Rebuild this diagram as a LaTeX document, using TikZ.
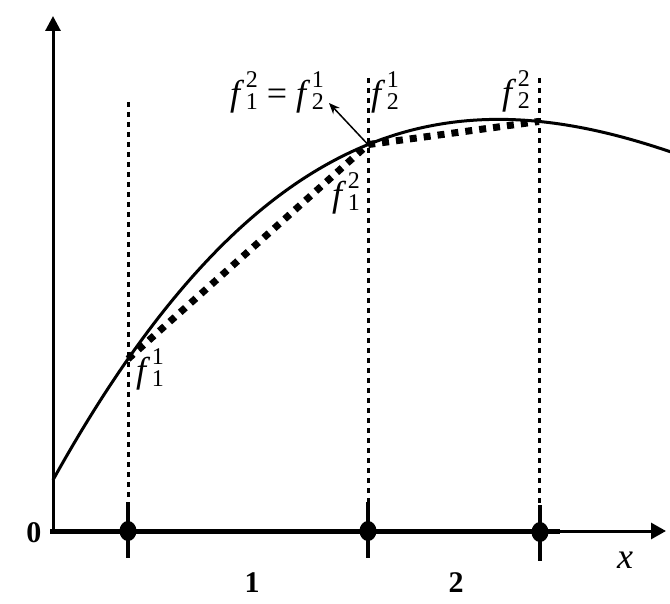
\documentclass[tikz,border=0pt]{standalone}
\usepackage{fontspec}
\setmainfont{Liberation Serif}
\usetikzlibrary{arrows.meta,intersections,shapes.geometric}
\newcommand{\fsym}[2]{\textit{f}\kern1.5pt\rlap{\raisebox{0.5em}{\fontsize{24}{24}\selectfont #2}}\raisebox{-0.12em}{\fontsize{24}{24}\selectfont #1}}
\begin{document}
\begin{tikzpicture}[x=1pt,y=-1pt,
  guide/.style={line width=3pt, dash pattern=on 5pt off 5pt},
  chord/.style={line width=7pt, dash pattern=on 7pt off 7pt},
  tickmark/.style={line width=4pt},
  dotm/.style={ellipse, fill=black, inner sep=0pt, minimum width=17pt, minimum height=20pt},
  lab/.style={inner sep=0pt, font=\fontsize{36}{40}\selectfont},
  num/.style={inner sep=0pt, font=\fontsize{30}{34}\selectfont\bfseries}]
\useasboundingbox (0,0) rectangle (670,604);
% axes
\coordinate (O) at (53,533);
\coordinate (Ytop) at (53,16);
\coordinate (X0) at (50,531);
\coordinate (Xmid) at (560,531);
\coordinate (Xend) at (666,531);
\draw[line width=3pt,-{Triangle[length=15pt,width=15pt]}] (O) -- (Ytop);
\draw[line width=5pt] (X0) -- (Xmid);
\draw[line width=3pt,-{Triangle[length=15pt,width=16pt]}] (Xmid) -- (Xend);
% curve
\coordinate (c0) at (53,480);
\coordinate (c1) at (263,102);
\coordinate (c2) at (460,80);
\coordinate (c3) at (671,152);
\draw[line width=3pt, name path=curve] (c0) .. controls (c1) and (c2) .. (c3);
% guide lines
\coordinate (g1a) at (128,102); \coordinate (g1b) at (128,502);
\coordinate (g2a) at (368,78);  \coordinate (g2b) at (368,502);
\coordinate (g3a) at (539,78);  \coordinate (g3b) at (539,505);
\draw[guide, name path=g1] (g1a) -- (g1b);
\draw[guide, name path=g2] (g2a) -- (g2b);
\draw[guide, name path=g3] (g3a) -- (g3b);
\path[name intersections={of=curve and g1, by=p1}];
\path[name intersections={of=curve and g2, by=p2}];
\path[name intersections={of=curve and g3, by=p3}];
% chords
\draw[chord] (p1) -- (p2) -- (p3);
% arrow
\coordinate (atip) at (329,103);
\draw[line width=1.5pt, -{Stealth[length=11pt,width=9pt]}] (p2) -- (atip);
% ticks and dots
\coordinate (t1a) at (128,502); \coordinate (t1b) at (128,558);
\coordinate (t2a) at (368,502); \coordinate (t2b) at (368,558);
\coordinate (t3a) at (540,505); \coordinate (t3b) at (540,561);
\draw[tickmark] (t1a) -- (t1b);
\draw[tickmark] (t2a) -- (t2b);
\draw[tickmark] (t3a) -- (t3b);
\node[dotm] (d1) at (128,531) {};
\node[dotm] (d2) at (368,531) {};
\node[dotm] (d3) at (540,532) {};
% labels
\node[num] (zero) at (34,533) {0};
\node[num] (one) at (252,583) {1};
\node[num] (two) at (456,583) {2};
\node[lab, font=\fontsize{36}{40}\selectfont\itshape] (xl) at (625,560) {x};
\node[lab] (eq) at (277,92) {\fsym{1}{2} = \fsym{2}{1}};
\node[lab] (f21) at (385,92) {\fsym{2}{1}};
\node[lab] (f22) at (516,91) {\fsym{2}{2}};
\node[lab] (f12) at (346,193) {\fsym{1}{2}};
\node[lab] (f11) at (150,369) {\fsym{1}{1}};
\end{tikzpicture}
\end{document}
